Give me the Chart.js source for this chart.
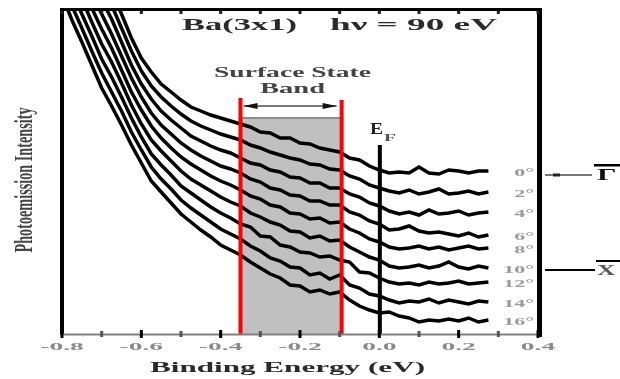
<!DOCTYPE html>
<html>
<head>
<meta charset="utf-8">
<script src="https://cdn.jsdelivr.net/npm/chart.js@4/dist/chart.umd.min.js"></script>
<style>
  html, body { margin: 0; padding: 0; background: #fff; }
  canvas { display: block; }
</style>
</head>
<body>
<canvas id="arpes" width="620" height="379"></canvas>
<script>
// Binding energy grid (eV), shared by every spectrum
const energies = [-0.8,-0.775,-0.75,-0.725,-0.7,-0.675,-0.65,-0.625,-0.6,-0.575,-0.55,-0.525,-0.5,-0.475,-0.45,-0.425,-0.4,-0.375,-0.35,-0.325,-0.3,-0.275,-0.25,-0.225,-0.2,-0.175,-0.15,-0.125,-0.1,-0.075,-0.05,-0.025,0,0.025,0.05,0.075,0.1,0.125,0.15,0.175,0.2,0.225,0.25,0.275];

// Offset photoemission spectra (arb. units), one per emission angle
const spec0  = [455,430,407,385,365,345,321,297,277,263,251,243,235,228,224,220,217,214,211,208,203,202,197,197,192,191,187,185,183,177,175,169,165,162,163,162,168,162,161,165,164,162,164,164];
const spec2  = [441,416,393,371,350,330,307,284,264,249,238,229,221,214,209,205,201,198,195,190,187,183,180,177,175,171,170,166,165,159,156,150,147,144,142,145,141,143,146,141,142,144,141,143];
const spec4  = [426,401,379,356,335,316,293,270,251,236,224,215,207,199,194,189,185,182,177,172,170,165,163,158,157,152,152,147,147,141,138,132,129,124,121,123,120,125,121,122,124,120,122,123];
const spec6  = [412,387,364,342,321,301,279,257,238,222,210,201,192,185,179,174,169,166,162,156,153,147,145,140,139,134,134,130,130,123,120,114,111,105,106,109,104,102,103,101,99,102,98,100];
const spec8  = [397,372,350,327,306,287,265,243,225,209,197,187,178,171,165,159,154,150,145,139,136,130,128,122,121,116,117,112,113,106,102,96,93,88,86,87,89,86,88,85,87,89,86,87];
const spec10 = [383,358,336,313,291,273,252,230,211,195,184,174,164,156,150,144,138,133,129,122,118,113,110,104,103,97,99,94,95,88,83,78,75,69,67,68,70,67,69,73,68,66,69,67];
const spec12 = [369,344,321,299,276,258,238,217,198,181,170,160,149,142,135,128,122,117,111,108,99,98,90,88,83,82,78,79,75,73,63,62,57,53,51,52,50,53,51,52,54,51,52,53];
const spec14 = [354,329,307,284,262,243,224,203,185,168,156,146,135,127,120,113,106,101,96,89,84,77,74,68,67,60,62,56,60,50,47,41,39,35,32,34,33,36,32,35,33,31,34,33];
const spec16 = [340,315,293,270,247,229,210,190,172,154,143,132,121,113,105,98,90,85,80,73,67,61,57,50,49,43,45,41,43,35,29,25,22,23,19,17,13,15,14,16,14,17,13,15];

const spectra = [spec0, spec2, spec4, spec6, spec8, spec10, spec12, spec14, spec16];
const angleLabels = ['0°','2°','4°','6°','8°','10°','12°','14°','16°'];

// Axis ticks
const tickValues = [-0.8,-0.6,-0.4,-0.2,0.0,0.2,0.4];
const tickLabels = ['-0.8','-0.6','-0.4','-0.2','0.0','0.2','0.4'];
const minorTickValues = [-0.8,-0.7,-0.6,-0.5,-0.4,-0.3,-0.2,-0.1,0.0,0.1,0.2,0.3,0.4];

// Surface state band window and Fermi level (eV), marker heights (arb. units)
const bandStart = -0.35;
const bandEnd = -0.095;
const fermiLevel = 0.0;
const bandTop = 218;
const bandLineTop = 237;
const arrowLevel = 229;
const fermiLineTop = 190;

const SERIF = '"Liberation Serif", "DejaVu Serif", serif';

function stretchText(ctx, str, x, y, font, color, sx, align) {
  ctx.save();
  ctx.font = font;
  ctx.fillStyle = color;
  ctx.textBaseline = 'middle';
  ctx.textAlign = align || 'center';
  ctx.translate(x, y);
  ctx.scale(sx, 1);
  ctx.fillText(str, 0, 0);
  ctx.restore();
}

function fitText(ctx, str, left, right, y, font, color) {
  ctx.save();
  ctx.font = font;
  const w = ctx.measureText(str).width;
  ctx.restore();
  stretchText(ctx, str, (left + right) / 2, y, font, color, (right - left) / w, 'center');
}

const decorations = {
  id: 'decorations',
  beforeDatasetsDraw(chart) {
    const { ctx, chartArea: a, scales: { x, y } } = chart;
    const x0 = x.getPixelForValue(bandStart);
    const x1 = x.getPixelForValue(bandEnd);
    const yt = y.getPixelForValue(bandTop);
    ctx.save();
    ctx.fillStyle = '#c0c0c0';
    ctx.fillRect(x0, yt, x1 - x0, a.bottom - yt);
    ctx.fillStyle = '#8c8c8c';
    ctx.fillRect(x0, yt, x1 - x0, 2);
    ctx.restore();
  },
  afterDatasetsDraw(chart) {
    const { ctx, chartArea: a, scales: { x, y } } = chart;
    ctx.save();

    // band edges
    const x0 = x.getPixelForValue(bandStart);
    const x1 = x.getPixelForValue(bandEnd);
    const ly = y.getPixelForValue(bandLineTop);
    ctx.fillStyle = '#ff0000';
    ctx.fillRect(x0 - 2, ly, 4, a.bottom - ly);
    ctx.fillRect(x1 - 2, ly + 2, 4, a.bottom - ly - 2);

    // Fermi level
    const xf = x.getPixelForValue(fermiLevel);
    const fy = y.getPixelForValue(fermiLineTop);
    ctx.fillStyle = '#000';
    ctx.fillRect(xf - 1.5, fy, 4, a.bottom - fy);

    // double arrow across the band
    const ay = y.getPixelForValue(arrowLevel);
    const al = x0 + 3, ar = x1 - 5;
    ctx.fillStyle = '#7a7a7a';
    ctx.fillRect(al, ay - 1, ar - al, 2);
    ctx.fillStyle = '#111';
    ctx.beginPath();
    ctx.moveTo(al, ay); ctx.lineTo(al + 14, ay - 3); ctx.lineTo(al + 14, ay + 3); ctx.closePath();
    ctx.moveTo(ar, ay); ctx.lineTo(ar - 14, ay - 3); ctx.lineTo(ar - 14, ay + 3); ctx.closePath();
    ctx.fill();

    // frame
    ctx.fillStyle = '#000';
    ctx.fillRect(a.left - 2, a.top - 2, 4, a.bottom - a.top + 2);
    ctx.fillRect(a.left - 2, a.top - 2, a.right - a.left + 6, 3);
    ctx.fillRect(a.right - 1, a.top - 2, 5, a.bottom - a.top + 4);
    ctx.fillStyle = '#808080';
    ctx.fillRect(a.left, a.bottom - 1.5, a.right - a.left, 2);

    // inward ticks, top and bottom
    minorTickValues.forEach((v, i) => {
      const px = x.getPixelForValue(v);
      const major = i % 2 === 0;
      ctx.fillStyle = major ? '#000' : '#555';
      if (major) ctx.fillRect(px - 1.5, a.bottom - 5, 3, 8);
      else ctx.fillRect(px - 1.5, a.bottom - 4, 3, 6);
      ctx.fillStyle = '#222';
      ctx.fillRect(px - 1.5, a.top + 1, 3, 3);
    });

    // tick labels
    tickValues.forEach((v, i) => {
      stretchText(ctx, tickLabels[i], x.getPixelForValue(v), 347, 'bold 11px ' + SERIF, '#8a8a8a', 2.5, 'center');
    });

    // axis titles
    fitText(ctx, 'Binding Energy (eV)', 150, 425, 368, 'bold 14px ' + SERIF, '#2a2a2a');
    ctx.save();
    ctx.font = 'bold 12px ' + SERIF;
    const yw = ctx.measureText('Photoemission Intensity').width;
    ctx.translate(26, 180);
    ctx.rotate(-Math.PI / 2);
    ctx.scale(145 / yw, 2.1);
    ctx.fillStyle = '#444';
    ctx.textAlign = 'center';
    ctx.textBaseline = 'middle';
    ctx.fillText('Photoemission Intensity', 0, 0);
    ctx.restore();

    // heading inside the frame
    fitText(ctx, 'Ba(3x1)', 182, 297, 26, 'bold 16px ' + SERIF, '#2a2a2a');
    fitText(ctx, 'hν = 90 eV', 330, 497, 26, 'bold 16px ' + SERIF, '#2a2a2a');

    // band annotation
    fitText(ctx, 'Surface State', 214, 371, 73, 'bold 14px ' + SERIF, '#444');
    fitText(ctx, 'Band', 260, 325, 89, 'bold 14px ' + SERIF, '#444');

    // E_F label
    fitText(ctx, 'E', 370, 383, 130, 'bold 16px ' + SERIF, '#222');
    fitText(ctx, 'F', 384, 396, 138, 'bold 11px ' + SERIF, '#555');

    // angle labels at the right end of each spectrum
    const labelY = [];
    spectra.forEach((s, i) => {
      const py = y.getPixelForValue(s[s.length - 1]) + 2;
      labelY.push(py);
      stretchText(ctx, angleLabels[i], 534, py, 'bold 11px ' + SERIF, '#9a9a9a', 2.0, 'right');
    });

    // high-symmetry point markers
    const gy = labelY[0] + 2;
    ctx.fillStyle = '#777';
    ctx.fillRect(545, gy - 1, 47, 2);
    ctx.fillStyle = '#222';
    ctx.fillRect(553, gy - 1.5, 7, 3);
    ctx.fillStyle = '#000';
    ctx.fillRect(594, gy - 11, 26, 2.5);
    stretchText(ctx, 'Γ', 597, gy + 1, 'bold 17px ' + SERIF, '#111', 1.8, 'left');

    const xy = labelY[5];
    ctx.fillStyle = '#000';
    ctx.fillRect(545, xy - 1, 50, 2);
    ctx.fillRect(596, xy - 10, 24, 2);
    stretchText(ctx, 'X', 597, xy + 1, 'bold 15px ' + SERIF, '#555', 1.7, 'left');

    ctx.restore();
  }
};

const datasets = spectra.map((s, i) => ({
  label: angleLabels[i],
  data: energies.map((e, j) => ({ x: e, y: s[j] })),
  borderColor: '#000',
  borderWidth: 3.5,
  pointRadius: 0,
  tension: 0,
  fill: false
}));

new Chart(document.getElementById('arpes'), {
  type: 'line',
  data: { datasets },
  options: {
    responsive: false,
    devicePixelRatio: 1,
    animation: false,
    layout: { padding: { left: 62, right: 82, top: 10, bottom: 44 } },
    plugins: { legend: { display: false }, tooltip: { enabled: false } },
    scales: {
      x: { type: 'linear', min: -0.8, max: 0.4, display: false },
      y: { type: 'linear', min: 0, max: 325, display: false }
    }
  },
  plugins: [decorations]
});
</script>
</body>
</html>
